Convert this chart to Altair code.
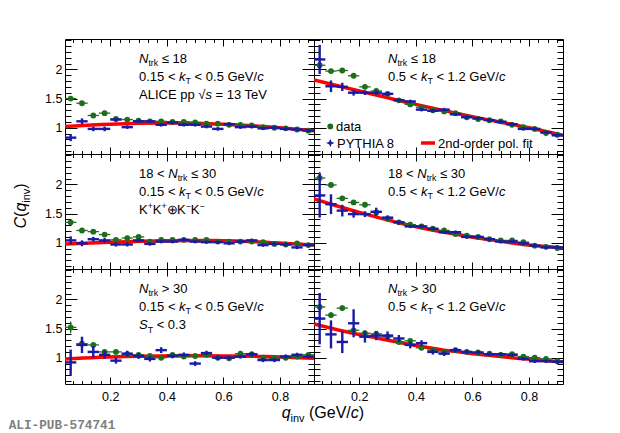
import altair as alt
import pandas as pd

## bin centres of q_inv (GeV/c), shared by all six panels
Q = [0.06, 0.10, 0.14, 0.18, 0.22, 0.26, 0.30, 0.34, 0.38, 0.42, 0.46,
     0.50, 0.54, 0.58, 0.62, 0.66, 0.70, 0.74, 0.78, 0.82, 0.86, 0.90]

## Ntrk <= 18, 0.15 < kT < 0.5
DATA_1 = [1.50, 1.42, 1.21, 1.25, 1.15, 1.14, 1.12, 1.11, 1.11, 1.10, 1.10,
          1.09, 1.07, 1.07, 1.05, 1.05, 1.04, 1.01, 1.00, 0.99, 0.97, 0.95]
DATA_1_ERR = [0.03, 0.025, 0.02, 0.02, 0.02, 0.015, 0.015, 0.015, 0.015, 0.015, 0.015,
              0.015, 0.015, 0.015, 0.015, 0.015, 0.015, 0.015, 0.015, 0.015, 0.015, 0.015]
PYTH_1 = [0.83, 1.11, 0.98, 0.98, 1.14, 1.01, 1.11, 1.11, 1.05, 1.09, 1.05,
          1.05, 1.02, 0.98, 1.06, 1.01, 1.02, 0.99, 1.00, 0.98, 0.97, 0.95]
PYTH_1_ERR = [0.06, 0.05, 0.04, 0.04, 0.035, 0.03, 0.03, 0.03, 0.03, 0.03, 0.03,
              0.03, 0.03, 0.03, 0.03, 0.03, 0.03, 0.03, 0.03, 0.03, 0.03, 0.03]
FIT_1_Q = [0.04, 0.20, 0.40, 0.60, 0.80, 0.92]
FIT_1_C = [1.02, 1.06, 1.08, 1.06, 1.00, 0.95]

## Ntrk <= 18, 0.5 < kT < 1.2
DATA_2 = [2.07, 1.97, 1.98, 1.89, 1.70, 1.63, 1.58, 1.47, 1.40, 1.35, 1.30,
          1.28, 1.25, 1.18, 1.15, 1.13, 1.11, 1.05, 1.01, 0.98, 0.91, 0.88]
DATA_2_ERR = [0.04, 0.03, 0.03, 0.025, 0.02, 0.02, 0.02, 0.015, 0.015, 0.015, 0.015,
              0.015, 0.015, 0.015, 0.015, 0.015, 0.015, 0.015, 0.015, 0.015, 0.015, 0.015]
PYTH_2 = [2.17, 1.71, 1.70, 1.60, 1.60, 1.60, 1.58, 1.47, 1.45, 1.31, 1.29,
          1.31, 1.23, 1.18, 1.16, 1.13, 1.10, 1.06, 0.98, 0.98, 0.92, 0.87]
PYTH_2_ERR = [0.25, 0.10, 0.07, 0.05, 0.04, 0.04, 0.035, 0.03, 0.03, 0.03, 0.03,
              0.03, 0.03, 0.03, 0.03, 0.03, 0.03, 0.03, 0.03, 0.03, 0.03, 0.03]
FIT_2_Q = [0.04, 0.20, 0.40, 0.60, 0.80, 0.92]
FIT_2_C = [1.82, 1.63, 1.40, 1.19, 1.00, 0.87]

## 18 < Ntrk <= 30, 0.15 < kT < 0.5
DATA_3 = [1.35, 1.21, 1.19, 1.14, 1.05, 1.08, 1.10, 1.02, 1.05, 1.05, 1.05,
          1.05, 1.05, 1.02, 1.02, 1.02, 1.02, 1.01, 0.98, 0.97, 0.99, 0.96]
DATA_3_ERR = [0.03, 0.025, 0.02, 0.02, 0.02, 0.02, 0.02, 0.015, 0.015, 0.015, 0.015,
              0.015, 0.015, 0.015, 0.015, 0.015, 0.015, 0.015, 0.015, 0.015, 0.015, 0.015]
PYTH_3 = [1.04, 0.99, 1.06, 1.04, 0.97, 0.97, 1.04, 0.98, 1.02, 1.02, 1.05,
          1.02, 1.01, 1.01, 0.99, 1.02, 1.04, 0.96, 0.98, 0.97, 0.92, 0.96]
PYTH_3_ERR = [0.07, 0.05, 0.04, 0.04, 0.035, 0.035, 0.03, 0.03, 0.03, 0.03, 0.03,
              0.03, 0.03, 0.03, 0.03, 0.03, 0.03, 0.03, 0.03, 0.03, 0.03, 0.03]
FIT_3_Q = [0.04, 0.20, 0.40, 0.55, 0.70, 0.92]
FIT_3_C = [0.98, 1.01, 1.035, 1.04, 1.02, 0.96]

## 18 < Ntrk <= 30, 0.5 < kT < 1.2
DATA_4 = [2.11, 1.99, 1.76, 1.69, 1.65, 1.52, 1.41, 1.35, 1.31, 1.28, 1.24,
          1.21, 1.15, 1.12, 1.10, 1.06, 1.04, 1.04, 1.01, 0.95, 0.93, 0.91]
DATA_4_ERR = [0.10, 0.05, 0.03, 0.025, 0.02, 0.02, 0.02, 0.015, 0.015, 0.015, 0.015,
              0.015, 0.015, 0.015, 0.015, 0.015, 0.015, 0.015, 0.015, 0.015, 0.015, 0.015]
PYTH_4 = [1.81, 1.66, 1.55, 1.49, 1.49, 1.53, 1.43, 1.35, 1.28, 1.28, 1.24,
          1.18, 1.18, 1.10, 1.10, 1.06, 1.02, 1.02, 0.99, 0.95, 0.92, 0.92]
PYTH_4_ERR = [0.38, 0.17, 0.10, 0.06, 0.05, 0.07, 0.04, 0.035, 0.03, 0.03, 0.03,
              0.03, 0.03, 0.03, 0.03, 0.03, 0.03, 0.03, 0.03, 0.03, 0.03, 0.03]
FIT_4_Q = [0.04, 0.20, 0.35, 0.50, 0.65, 0.80, 0.92]
FIT_4_C = [1.75, 1.52, 1.33, 1.18, 1.06, 0.96, 0.91]

## Ntrk > 30, 0.15 < kT < 0.5, ST < 0.3
DATA_5 = [1.52, 1.24, 1.22, 1.10, 1.10, 1.06, 1.05, 1.03, 1.00, 1.05, 1.02,
          1.03, 1.05, 1.00, 0.99, 1.07, 1.06, 1.00, 0.99, 1.00, 1.02, 1.05]
DATA_5_ERR = [0.10, 0.05, 0.04, 0.03, 0.025, 0.02, 0.02, 0.02, 0.02, 0.02, 0.02,
              0.02, 0.02, 0.02, 0.02, 0.02, 0.02, 0.02, 0.02, 0.02, 0.02, 0.02]
PYTH_5 = [0.92, 1.22, 1.10, 1.05, 0.95, 1.07, 1.03, 0.98, 1.13, 1.03, 1.05,
          0.90, 1.08, 1.00, 1.00, 1.02, 1.06, 0.96, 0.96, 1.02, 1.05, 1.02]
PYTH_5_ERR = [0.22, 0.14, 0.10, 0.07, 0.05, 0.05, 0.05, 0.045, 0.05, 0.04, 0.04,
              0.04, 0.04, 0.04, 0.035, 0.035, 0.035, 0.035, 0.035, 0.035, 0.035, 0.035]
FIT_5_Q = [0.04, 0.25, 0.50, 0.75, 0.92]
FIT_5_C = [0.98, 1.02, 1.035, 1.02, 0.99]

## Ntrk > 30, 0.5 < kT < 1.2
DATA_6 = [1.87, 1.73, 1.85, 1.47, 1.42, 1.41, 1.36, 1.27, 1.29, 1.17, 1.13,
          1.10, 1.13, 1.10, 1.09, 1.07, 1.05, 1.06, 1.02, 1.00, 0.98, 0.94]
DATA_6_ERR = [0.06, 0.05, 0.05, 0.04, 0.03, 0.03, 0.025, 0.02, 0.02, 0.02, 0.02,
              0.02, 0.02, 0.02, 0.02, 0.02, 0.02, 0.02, 0.02, 0.02, 0.02, 0.02]
PYTH_6 = [1.67, 1.40, 1.27, 1.59, 1.36, 1.38, 1.38, 1.33, 1.22, 1.25, 1.10,
          1.07, 1.13, 1.10, 1.09, 1.06, 1.06, 1.05, 0.98, 0.94, 0.94, 0.93]
PYTH_6_ERR = [0.44, 0.24, 0.19, 0.24, 0.10, 0.08, 0.07, 0.06, 0.06, 0.05, 0.045,
              0.04, 0.04, 0.035, 0.035, 0.035, 0.03, 0.03, 0.03, 0.03, 0.03, 0.03]
FIT_6_Q = [0.04, 0.15, 0.27, 0.40, 0.50, 0.62, 0.74, 0.92]
FIT_6_C = [1.58, 1.45, 1.33, 1.21, 1.13, 1.06, 1.00, 0.93]

## axis ranges and tick positions
XDOM = [0.04, 0.92]
YDOM = [0.55, 2.52]
X_LABELS = [0.2, 0.4, 0.6, 0.8]
Y_LABELS = [1, 1.5, 2]
X_TICKS = [k / 30 for k in range(2, 28)]
Y_TICKS = [round(0.6 + 0.1 * k, 1) for k in range(20)]

W, H = 249, 115
FONT = 'Liberation Sans'
FS = 13
GREEN = '#1e6e1e'
BLUE = '#1a1aa6'
RED = '#ff0000'
HALF_BIN = 0.02
STAR = 'M0,-1L0.28,-0.28L1,0L0.28,0.28L0,1L-0.28,0.28L-1,0L-0.28,-0.28Z'

## Arial / Liberation Sans advance widths (per 1000 em), for placing sub/superscripts
WID = {' ': 278, '.': 278, '/': 278, '(': 333, ')': 333, '-': 333,
       '<': 584, '>': 584, '=': 584, '+': 584, '\u2212': 584, '\u2264': 549,
       '\u221a': 549, '\u2295': 800,
       'A': 667, 'C': 722, 'E': 667, 'G': 778, 'H': 722, 'I': 278, 'K': 667,
       'L': 556, 'N': 722, 'P': 667, 'S': 667, 'T': 611, 'V': 667, 'Y': 667,
       'a': 556, 'c': 500, 'd': 556, 'e': 556, 'f': 278, 'i': 222, 'k': 500,
       'l': 222, 'n': 556, 'o': 556, 'p': 556, 'q': 556, 'r': 333, 's': 500,
       't': 278, 'v': 500}


def tw(s, size):
    return sum(WID.get(ch, 556) for ch in s) * size / 1000.0


def rich(segs, x0, y0, fs=FS, vertical=False):
    ## segs: (text, kind) with kind n=normal, i=italic, sub, sup
    ## vega trims the ends of each string, so edge spaces are turned into offsets
    rows, pos = [], 0.0
    for txt, kind in segs:
        size = fs if kind in ('n', 'i') else round(fs * 0.68, 1)
        shift = 0.3 * fs if kind == 'sub' else (-0.42 * fs if kind == 'sup' else 0.0)
        lead = len(txt) - len(txt.lstrip(' '))
        core = txt.strip(' ')
        start = pos + tw(' ' * lead, size)
        if vertical:
            rows.append({'px': x0 + shift, 'py': y0 - start, 't': core, 'fs': size, 'it': kind == 'i'})
        else:
            rows.append({'px': x0 + start, 'py': y0 + shift, 't': core, 'fs': size, 'it': kind == 'i'})
        pos += tw(txt, size)
    return rows


def text_layers(rows, angle=0):
    df = pd.DataFrame(rows)
    out = []
    for italic in (False, True):
        part = df[df['it'] == italic]
        if len(part) == 0:
            continue
        out.append(alt.Chart(part).mark_text(
            align='left', baseline='alphabetic', font=FONT, color='black',
            fontStyle='italic' if italic else 'normal', angle=angle
        ).encode(
            x=alt.X('px:Q', scale=None, axis=None),
            y=alt.Y('py:Q', scale=None, axis=None),
            text='t:N',
            size=alt.Size('fs:Q', scale=None, legend=None)
        ))
    return out


def tick_size(test, major, minor):
    return {'condition': {'test': test, 'value': major}, 'value': minor}


X_MAJOR = 'abs(datum.value * 5 - round(datum.value * 5)) < 0.001'
Y_MAJOR = 'abs(datum.value * 2 - round(datum.value * 2)) < 0.001 && datum.value < 2.4'

xs = alt.Scale(domain=XDOM, nice=False, zero=False)
ys = alt.Scale(domain=YDOM, nice=False, zero=False)


## ROOT-style ticks pointing into the frame: an axis on the opposite side, shifted across the plot
def x_ticks(orient):
    return alt.Axis(orient=orient, offset=-H, values=X_TICKS, labels=False, domain=False,
                    grid=False, title=None, tickColor='black', tickWidth=1,
                    tickSize=tick_size(X_MAJOR, 7, 3.5))


def y_ticks(orient):
    return alt.Axis(orient=orient, offset=-W, values=Y_TICKS, labels=False, domain=False,
                    grid=False, title=None, tickColor='black', tickWidth=1,
                    tickSize=tick_size(Y_MAJOR, 12, 6))


x_lab = alt.Axis(orient='bottom', values=X_LABELS, format='~g', ticks=False, domain=False,
                 grid=False, title=None, labelPadding=6, labelFontSize=12.5,
                 labelColor='black', labelFont=FONT, labelOverlap=False)
y_lab = alt.Axis(orient='left', values=Y_LABELS, format='~g', ticks=False, domain=False,
                 grid=False, title=None, labelPadding=3, labelFontSize=12.5,
                 labelColor='black', labelFont=FONT, labelOverlap=False)


def err_df(c, err):
    return pd.DataFrame({'q': Q, 'c': c,
                         'lo': [v - e for v, e in zip(c, err)],
                         'hi': [v + e for v, e in zip(c, err)],
                         'q0': [q - HALF_BIN for q in Q],
                         'q1': [q + HALF_BIN for q in Q]})


def panel(data, data_err, pyth, pyth_err, fit_q, fit_c, lines, left, bottom, extra=()):
    dd = err_df(data, data_err)
    pd_ = err_df(pyth, pyth_err)
    fit = pd.DataFrame({'q': fit_q, 'c': fit_c})

    X = lambda f: alt.X(f, scale=xs, axis=None)
    Y = lambda f: alt.Y(f, scale=ys, axis=None)

    layers = [
        alt.Chart(fit).mark_line(color=RED, strokeWidth=3.5, interpolate='monotone', clip=True)
        .encode(x=X('q:Q'), y=Y('c:Q')),
        alt.Chart(dd).mark_rule(color=GREEN, strokeWidth=1.3, clip=True)
        .encode(x=X('q0:Q'), x2='q1:Q', y=Y('c:Q')),
        alt.Chart(dd).mark_rule(color=GREEN, strokeWidth=1.3, clip=True)
        .encode(x=X('q:Q'), y=Y('lo:Q'), y2='hi:Q'),
        alt.Chart(dd).mark_circle(color=GREEN, size=34, opacity=1, clip=True)
        .encode(x=X('q:Q'), y=Y('c:Q')),
        alt.Chart(pd_).mark_rule(color=BLUE, strokeWidth=2.4, clip=True)
        .encode(x=X('q0:Q'), x2='q1:Q', y=Y('c:Q')),
        alt.Chart(pd_).mark_rule(color=BLUE, strokeWidth=2.4, clip=True)
        .encode(x=X('q:Q'), y=Y('lo:Q'), y2='hi:Q'),
        ## axis carriers (invisible points)
        alt.Chart(dd).mark_point(opacity=0).encode(
            x=alt.X('q:Q', scale=xs, axis=x_ticks('top')),
            y=alt.Y('c:Q', scale=ys, axis=y_ticks('right'))),
        alt.Chart(dd).mark_point(opacity=0).encode(
            x=alt.X('q:Q', scale=xs, axis=x_ticks('bottom')),
            y=alt.Y('c:Q', scale=ys, axis=y_ticks('left'))),
    ]
    if left or bottom:
        layers.append(alt.Chart(dd).mark_point(opacity=0).encode(
            x=alt.X('q:Q', scale=xs, axis=x_lab if bottom else None),
            y=alt.Y('c:Q', scale=ys, axis=y_lab if left else None)))

    rows = []
    for segs, base in zip(lines, [23.5, 41.5, 60]):
        rows += rich(segs, 74, base)
    layers += text_layers(rows)
    layers += list(extra)
    return alt.layer(*layers).resolve_axis(x='independent', y='independent').properties(width=W, height=H)


N18 = [('N', 'i'), ('trk', 'sub'), (' \u2264 18', 'n')]
N30 = [('18 < ', 'n'), ('N', 'i'), ('trk', 'sub'), (' \u2264 30', 'n')]
N99 = [('N', 'i'), ('trk', 'sub'), (' > 30', 'n')]
KLO = [('0.15 < ', 'n'), ('k', 'i'), ('T', 'sub'), (' < 0.5 GeV/', 'n'), ('c', 'i')]
KHI = [('0.5 < ', 'n'), ('k', 'i'), ('T', 'sub'), (' < 1.2 GeV/', 'n'), ('c', 'i')]
ALICE = [('ALICE pp ', 'n'), ('\u221a', 'n'), ('s', 'i'), (' = 13 TeV', 'n')]
PAIRS = [('K', 'n'), ('+', 'sup'), ('K', 'n'), ('+', 'sup'), ('\u2295', 'n'),
         ('K', 'n'), ('\u2212', 'sup'), ('K', 'n'), ('\u2212', 'sup')]
SPHER = [('S', 'i'), ('T', 'sub'), (' < 0.3', 'n')]

one = pd.DataFrame({'k': [0]})

## legend (top-right panel)
legend = [
    alt.Chart(one).mark_circle(color=GREEN, size=34, opacity=1)
    .encode(x=alt.value(16.3), y=alt.value(87.4)),
    alt.Chart(one).mark_point(shape=STAR, filled=True, color=BLUE, size=70, opacity=1)
    .encode(x=alt.value(16.3), y=alt.value(104)),
    alt.Chart(one).mark_rule(color=RED, strokeWidth=3.5)
    .encode(x=alt.value(107), x2=alt.value(121), y=alt.value(104)),
] + text_layers(rich([('data', 'n')], 22, 91.8)
                + rich([('PYTHIA 8', 'n')], 23, 108.6)
                + rich([('2nd-order pol. fit', 'n')], 124, 108.6))

## y title (on middle-left panel), rotated
ytitle_segs = [('C', 'i'), ('(', 'n'), ('q', 'i'), ('inv', 'sub'), (')', 'n')]
ylen = sum(tw(t, 16 if k in ('n', 'i') else 16 * 0.68) for t, k in ytitle_segs)
ytitle = text_layers(rich(ytitle_segs, -39.5, 52 + ylen / 2, fs=16, vertical=True), angle=270)

## x title and publication id (on bottom-left panel)
xtitle = text_layers(rich([('q', 'i'), ('inv', 'sub'), (' (GeV/', 'n'), ('c', 'i'), (')', 'n')],
                          216.7, 148.5, fs=16))
pubid = [alt.Chart(one).mark_text(text='ALI-PUB-574741', align='left', baseline='alphabetic',
                                  font='Liberation Mono', fontWeight='bold', fontSize=12.7,
                                  color='#808080')
         .encode(x=alt.value(-56.3), y=alt.value(159.5))]

p1 = panel(DATA_1, DATA_1_ERR, PYTH_1, PYTH_1_ERR, FIT_1_Q, FIT_1_C, [N18, KLO, ALICE], True, False)
p2 = panel(DATA_2, DATA_2_ERR, PYTH_2, PYTH_2_ERR, FIT_2_Q, FIT_2_C, [N18, KHI], False, False, legend)
p3 = panel(DATA_3, DATA_3_ERR, PYTH_3, PYTH_3_ERR, FIT_3_Q, FIT_3_C, [N30, KLO, PAIRS], True, False, ytitle)
p4 = panel(DATA_4, DATA_4_ERR, PYTH_4, PYTH_4_ERR, FIT_4_Q, FIT_4_C, [N30, KHI], False, False)
p5 = panel(DATA_5, DATA_5_ERR, PYTH_5, PYTH_5_ERR, FIT_5_Q, FIT_5_C, [N99, KLO, SPHER], True, True,
           xtitle + pubid)
p6 = panel(DATA_6, DATA_6_ERR, PYTH_6, PYTH_6_ERR, FIT_6_Q, FIT_6_C, [N99, KHI], False, True)

chart = alt.concat(p1, p2, p3, p4, p5, p6, columns=2, spacing=0, bounds='flush').properties(
    padding={'left': 0, 'top': 30, 'right': 10, 'bottom': 0}
).configure(
    font=FONT
).configure_view(
    stroke='black', strokeWidth=1
)

chart.save('out.html', embed_options={'renderer': 'svg', 'actions': False})
